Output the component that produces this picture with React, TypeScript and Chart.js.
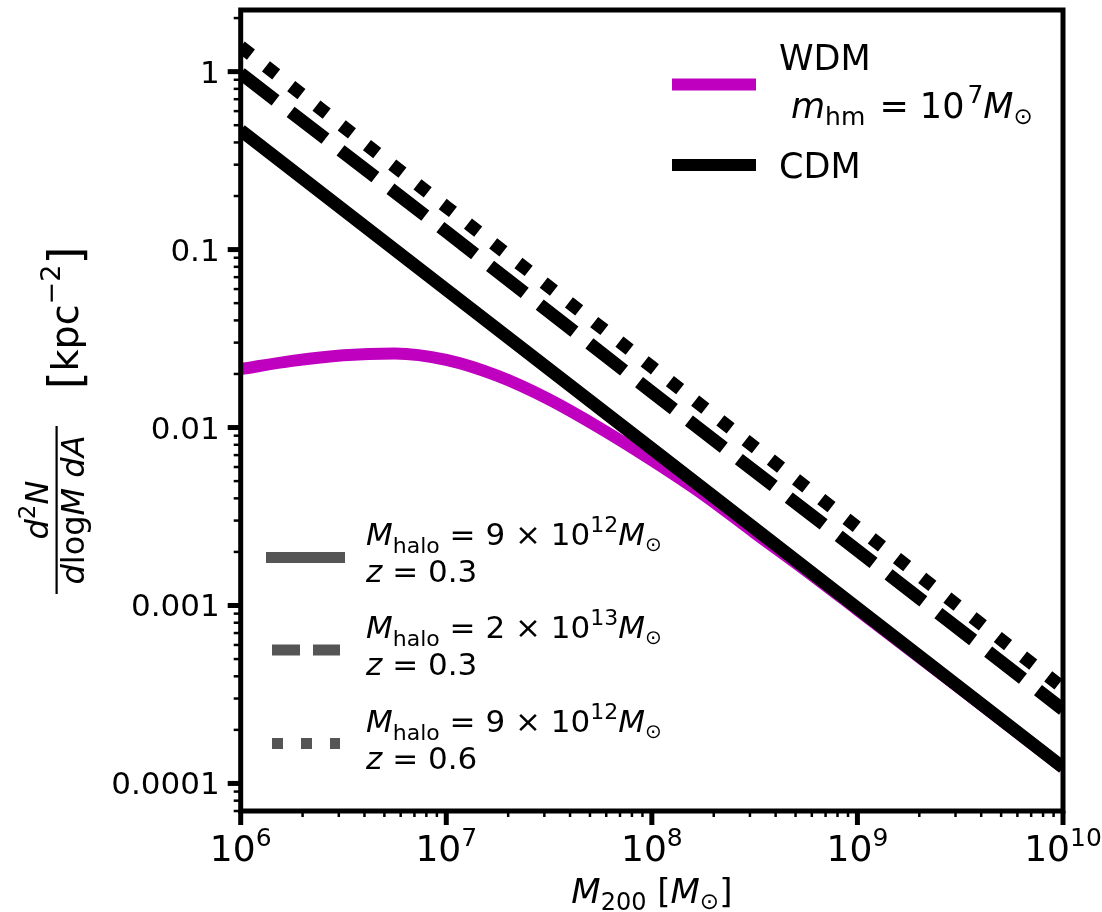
import React, { useEffect, useRef } from "react";
import { Chart, registerables } from "chart.js";

Chart.register(...registerables);

// ---- data ----
const massDecades = [1e6, 1e7, 1e8, 1e9, 1e10];
const cdmHalo9e12z03 = [0.468, 0.0596, 0.0076, 9.66e-4, 1.23e-4];
const cdmHalo2e13z03 = [0.977, 0.126, 0.0158, 2.04e-3, 2.6e-4];
const cdmHalo9e12z06 = [1.38, 0.174, 0.0219, 2.75e-3, 3.44e-4];

const wdmMass = [1e6, 1.78e6, 3.16e6, 5.62e6, 1e7, 1.78e7, 3.16e7, 5.62e7, 1e8, 1.78e8, 3.16e8, 5.62e8, 1e9, 3.16e9, 1e10];
const wdmHalo9e12z03 = [0.0213, 0.0237, 0.0255, 0.0261, 0.024, 0.0195, 0.0144, 0.0099, 0.00655, 0.0042, 0.00256, 0.00157, 9.45e-4, 3.42e-4, 1.225e-4];

const yMajorTicks = [1e-4, 1e-3, 1e-2, 1e-1, 1];
const yMajorLabels = ["0.0001", "0.001", "0.01", "0.1", "1"];
const xMajorTicks = [1e6, 1e7, 1e8, 1e9, 1e10];
const xMajorExponents = ["6", "7", "8", "9", "10"];

const PURPLE = "#bf00bf";
const LEGEND_GREY = "#555555";
const FONT = '"DejaVu Sans", "Liberation Sans", sans-serif';

type Seg = { t: string; size: number; italic?: boolean; dy?: number; gap?: number };

function segFont(s: Seg) {
  return `${s.italic ? "italic " : ""}${s.size}px ${FONT}`;
}

function drawRich(ctx: CanvasRenderingContext2D, segs: Seg[], x: number, y: number, align: "left" | "center" | "right") {
  let total = 0;
  const widths: number[] = [];
  for (const s of segs) {
    ctx.font = segFont(s);
    const w = ctx.measureText(s.t).width + (s.gap || 0);
    widths.push(w);
    total += w;
  }
  let cx = align === "left" ? x : align === "center" ? x - total / 2 : x - total;
  ctx.textBaseline = "alphabetic";
  ctx.textAlign = "left";
  segs.forEach((s, i) => {
    ctx.font = segFont(s);
    ctx.fillText(s.t, cx + (s.gap || 0) / 2, y + (s.dy || 0));
    cx += widths[i];
  });
}

const decorPlugin = {
  id: "decor",
  afterDraw(chart: any) {
    const ctx: CanvasRenderingContext2D = chart.ctx;
    const { left, right, top, bottom } = chart.chartArea;
    const xs = chart.scales.x;
    const ys = chart.scales.y;
    ctx.save();
    ctx.fillStyle = "#000";
    ctx.strokeStyle = "#000";

    // spines
    ctx.lineWidth = 5;
    ctx.setLineDash([]);
    ctx.strokeRect(left, top, right - left, bottom - top);

    // y ticks
    for (let e = -5; e <= 0; e++) {
      for (let m = 1; m <= 9; m++) {
        const v = m * Math.pow(10, e);
        if (v < ys.min || v > ys.max) continue;
        const py = ys.getPixelForValue(v);
        const major = m === 1;
        ctx.lineWidth = major ? 5 : 2.5;
        ctx.beginPath();
        ctx.moveTo(left - (major ? 13 : 7), py);
        ctx.lineTo(left, py);
        ctx.stroke();
      }
    }
    // x ticks
    for (let e = 6; e <= 10; e++) {
      for (let m = 1; m <= 9; m++) {
        const v = m * Math.pow(10, e);
        if (v < xs.min * 0.999 || v > xs.max * 1.001) continue;
        const px = xs.getPixelForValue(v);
        const major = m === 1;
        ctx.lineWidth = major ? 5 : 2.5;
        ctx.beginPath();
        ctx.moveTo(px, bottom);
        ctx.lineTo(px, bottom + (major ? 14 : 6));
        ctx.stroke();
      }
    }

    // y tick labels
    ctx.font = `31px ${FONT}`;
    ctx.textAlign = "right";
    ctx.textBaseline = "alphabetic";
    yMajorTicks.forEach((v, i) => {
      const py = ys.getPixelForValue(v);
      ctx.fillText(yMajorLabels[i], left - 21, py + 11);
    });

    // x tick labels
    xMajorTicks.forEach((v, i) => {
      const px = xs.getPixelForValue(v);
      drawRich(ctx, [
        { t: "10", size: 36 },
        { t: xMajorExponents[i], size: 25, dy: -15 },
      ], px, bottom + 50, "center");
    });

    // x axis title
    drawRich(ctx, [
      { t: "M", size: 34, italic: true },
      { t: "200", size: 24, dy: 7 },
      { t: " [", size: 34 },
      { t: "M", size: 34, italic: true },
      { t: "\u2299", size: 23, dy: 6 },
      { t: "]", size: 34 },
    ], (left + right) / 2, 903, "center");

    // y axis title (rotated)
    ctx.save();
    ctx.rotate(-Math.PI / 2);
    // screen x = v, screen y = -u
    drawRich(ctx, [
      { t: "d", size: 32, italic: true },
      { t: "2", size: 23, dy: -13 },
      { t: "N", size: 32, italic: true },
    ], -510, 48, "center");
    drawRich(ctx, [
      { t: "d", size: 32, italic: true },
      { t: "log", size: 32 },
      { t: "M", size: 32, italic: true },
      { t: " ", size: 32 },
      { t: "d", size: 32, italic: true },
      { t: "A", size: 32, italic: true },
    ], -510, 84, "center");
    ctx.fillRect(-594, 55.5, 168, 2.2);
    drawRich(ctx, [
      { t: "[", size: 46, dy: 3 },
      { t: "kpc", size: 38 },
      { t: "\u22122", size: 27, dy: -18 },
      { t: "]", size: 46, dy: 3 },
    ], -318, 78, "center");
    ctx.restore();

    // ---- legend 1 (WDM / CDM) ----
    ctx.lineWidth = 12;
    ctx.lineCap = "butt";
    ctx.strokeStyle = PURPLE;
    ctx.beginPath();
    ctx.moveTo(672, 84.5);
    ctx.lineTo(756, 84.5);
    ctx.stroke();
    ctx.strokeStyle = "#000";
    ctx.beginPath();
    ctx.moveTo(672, 165);
    ctx.lineTo(756, 165);
    ctx.stroke();
    ctx.fillStyle = "#000";
    drawRich(ctx, [{ t: "WDM", size: 35 }], 779, 70, "left");
    drawRich(ctx, [
      { t: "m", size: 35, italic: true },
      { t: "hm", size: 25, dy: 7 },
      { t: " = 10", size: 35, gap: 6 },
      { t: "7", size: 25, dy: -15 },
      { t: "M", size: 35, italic: true },
      { t: "\u2299", size: 23, dy: 6 },
    ], 791, 118, "left");
    drawRich(ctx, [{ t: "CDM", size: 35 }], 779, 178, "left");

    // ---- legend 2 (halo mass / redshift) ----
    ctx.strokeStyle = LEGEND_GREY;
    ctx.lineWidth = 11;
    const styles: number[][] = [[], [28, 13], [11, 18]];
    const ys2 = [557.5, 650, 743.5];
    styles.forEach((d, i) => {
      ctx.setLineDash(d);
      ctx.beginPath();
      ctx.moveTo(i === 0 ? 266 : 272, ys2[i]);
      ctx.lineTo(i === 0 ? 345 : 340, ys2[i]);
      ctx.stroke();
    });
    ctx.setLineDash([]);
    const haloTxt = [
      ["9", "12", "0.3"],
      ["2", "13", "0.3"],
      ["9", "12", "0.6"],
    ];
    const base2 = [545, 638, 732];
    haloTxt.forEach((h, i) => {
      drawRich(ctx, [
        { t: "M", size: 31, italic: true },
        { t: "halo", size: 22, dy: 8 },
        { t: " = " + h[0] + " \u00d7 10", size: 31 },
        { t: h[1], size: 22, dy: -13 },
        { t: "M", size: 31, italic: true },
        { t: "\u2299", size: 20, dy: 6 },
      ], 366, base2[i], "left");
      drawRich(ctx, [
        { t: "z", size: 31, italic: true },
        { t: " = " + h[2], size: 31 },
      ], 366, base2[i] + 37, "left");
    });

    ctx.restore();
  },
};

function pts(xs: number[], ys: number[]) {
  return xs.map((x, i) => ({ x, y: ys[i] }));
}

export default function App() {
  const ref = useRef<HTMLCanvasElement | null>(null);
  useEffect(() => {
    if (!ref.current) return;
    const chart = new Chart(ref.current, {
      type: "line",
      data: {
        datasets: [
          {
            data: pts(wdmMass, wdmHalo9e12z03),
            borderColor: PURPLE,
            borderWidth: 12,
            cubicInterpolationMode: "monotone",
            pointRadius: 0,
            clip: 0,
            order: 10,
          } as any,
          {
            data: pts(massDecades, cdmHalo9e12z03),
            borderColor: "#000",
            borderWidth: 13,
            pointRadius: 0,
            borderCapStyle: "butt",
            clip: 0,
            order: 3,
          },
          {
            data: pts(massDecades, cdmHalo2e13z03),
            borderColor: "#000",
            borderWidth: 13,
            borderDash: [44, 19],
            borderCapStyle: "butt",
            pointRadius: 0,
            clip: 0,
            order: 2,
          },
          {
            data: pts(massDecades, cdmHalo9e12z06),
            borderColor: "#000",
            borderWidth: 13,
            borderDash: [13, 19],
            borderCapStyle: "butt",
            pointRadius: 0,
            clip: 0,
            order: 1,
          },
        ],
      },
      options: {
        responsive: false,
        animation: false,
        events: [],
        layout: { padding: { top: 10, right: 39, left: 0, bottom: 0 } },
        plugins: { legend: { display: false }, tooltip: { enabled: false } },
        scales: {
          x: {
            type: "logarithmic",
            min: 1e6,
            max: 1e10,
            ticks: { display: false },
            grid: { display: false },
            border: { display: false },
            afterFit: (s: any) => { s.height = 101; },
          },
          y: {
            type: "logarithmic",
            min: 7.45e-5,
            max: 2.22,
            ticks: { display: false },
            grid: { display: false },
            border: { display: false },
            afterFit: (s: any) => { s.width = 240.7; },
          },
        },
      } as any,
      plugins: [decorPlugin],
    });
    return () => chart.destroy();
  }, []);
  return (
    <div style={{ position: "absolute", left: 0, top: 0, width: 1102, height: 912, background: "#fff" }}>
      <canvas ref={ref} width={1102} height={912} />
    </div>
  );
}
